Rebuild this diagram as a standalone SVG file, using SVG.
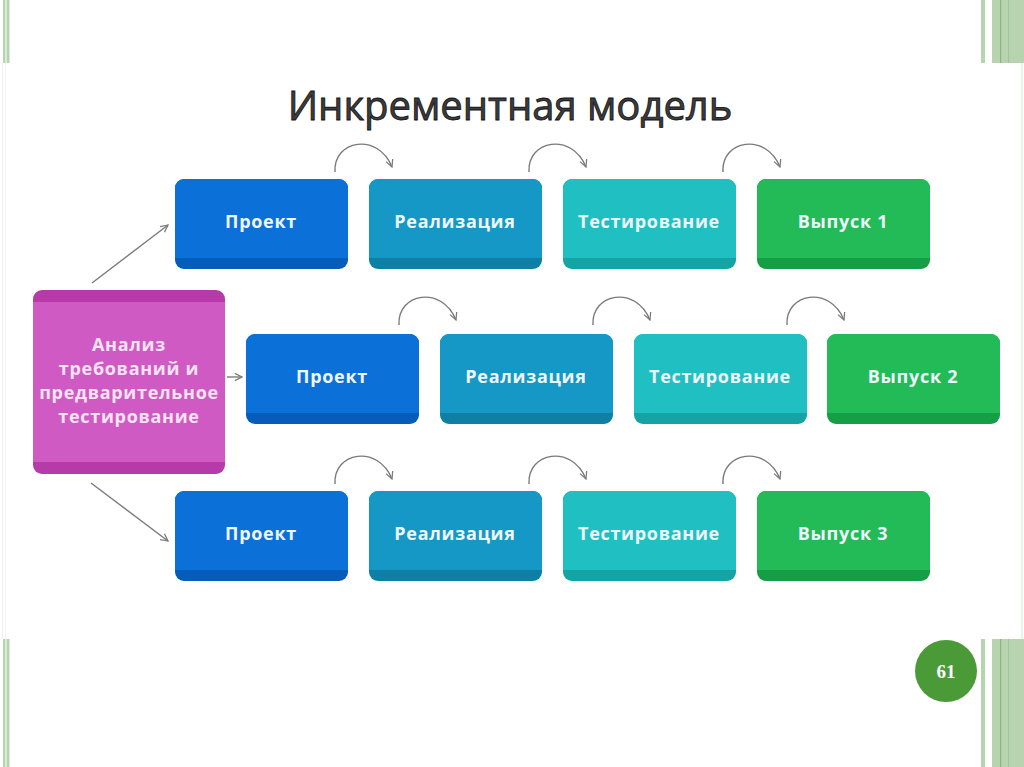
<svg xmlns="http://www.w3.org/2000/svg" width="1024" height="767" viewBox="0 0 1024 767">
<defs>
<style>
.lbl{font-family:"Open Sans","DejaVu Sans",sans-serif;font-weight:700;font-size:18px;letter-spacing:0.7px;text-anchor:middle}
.boxlbl{fill:#eef6fb}
.con{fill:none;stroke:#7a7a7a;stroke-width:1.4}
.gl{fill:#b7d3b0}
.gd{fill:#8ab682}
</style>
<marker id="ah" viewBox="0 0 10 10" refX="9" refY="5" markerWidth="9" markerHeight="9" markerUnits="userSpaceOnUse" orient="auto">
<path d="M1,1 L9,5 L1,9" fill="none" stroke="#7a7a7a" stroke-width="1.4"/>
</marker>
</defs>
<rect x="0" y="0" width="1024" height="767" fill="#ffffff"/>
<g id="frame">
<rect class="gl" x="3" y="0" width="2.5" height="63"/>
<rect class="gl" x="6.5" y="0" width="3" height="63"/>
<rect class="gl" x="981" y="0" width="4" height="63"/>
<rect class="gl" x="992" y="0" width="32" height="63"/>
<rect class="gd" x="1000" y="0" width="1.2" height="63"/>
<rect class="gd" x="1008" y="0" width="1" height="63" opacity="0.5"/>
<rect x="1021.5" y="63" width="1" height="576" fill="#d9e8d5"/>
<rect x="2" y="63" width="1" height="576" fill="#f0f0f0"/>
<rect x="5" y="63" width="1" height="576" fill="#f3f3f3"/>
<rect class="gl" x="3" y="639" width="2.5" height="128"/>
<rect class="gl" x="6.5" y="639" width="3" height="128"/>
<rect class="gl" x="981" y="639" width="4" height="128"/>
<rect class="gl" x="992" y="639" width="32" height="128"/>
<rect class="gd" x="1000" y="639" width="1.2" height="128"/>
<rect class="gd" x="1008" y="639" width="1" height="128" opacity="0.5"/>
</g>
<text x="510" y="120" font-family="'Open Sans','DejaVu Sans',sans-serif" font-size="40" fill="#3c3c3c" stroke="#111" stroke-width="0.8" text-anchor="middle">Инкрементная модель</text>
<g id="connectors">
<path class="con" d="M92,283 L168,225" marker-end="url(#ah)"/>
<path class="con" d="M227,377 L242,377" marker-end="url(#ah)"/>
<path class="con" d="M91,483 L168,541" marker-end="url(#ah)"/>
<g id="row1arcs">
<path class="con" d="M335,172 C333,140 378,132 392,167" marker-end="url(#ah)"/>
<path class="con" d="M529,172 C527,140 572,132 586,167" marker-end="url(#ah)"/>
<path class="con" d="M723,172 C721,140 766,132 780,167" marker-end="url(#ah)"/>
</g>
<g id="row2arcs">
<path class="con" d="M399,325 C397,293 442,285 456,320" marker-end="url(#ah)"/>
<path class="con" d="M593,325 C591,293 636,285 650,320" marker-end="url(#ah)"/>
<path class="con" d="M787,325 C785,293 830,285 844,320" marker-end="url(#ah)"/>
</g>
<g id="row3arcs">
<path class="con" d="M335,484 C333,452 378,444 392,479" marker-end="url(#ah)"/>
<path class="con" d="M529,484 C527,452 572,444 586,479" marker-end="url(#ah)"/>
<path class="con" d="M723,484 C721,452 766,444 780,479" marker-end="url(#ah)"/>
</g>
</g>
<g id="analysis">
<rect x="33" y="290" width="192" height="184" rx="9" fill="#b73aa9"/>
<rect x="33" y="302" width="192" height="160" fill="#d05ac3"/>
<text class="lbl" fill="#f7e3f3" x="129" y="351">Анализ</text>
<text class="lbl" fill="#f7e3f3" x="129" y="375">требований и</text>
<text class="lbl" fill="#f7e3f3" x="129" y="399">предварительное</text>
<text class="lbl" fill="#f7e3f3" x="129" y="423">тестирование</text>
</g>
<g id="p1"><rect x="175" y="179" width="173" height="90" rx="9" fill="#075cb9"/><rect x="175" y="179" width="173" height="79" rx="9" fill="#0b70d8"/><rect x="175" y="240" width="173" height="18" fill="#0b70d8"/><text class="lbl boxlbl" x="261" y="228">Проект</text></g>
<g id="r1"><rect x="369" y="179" width="173" height="90" rx="9" fill="#0f7fa4"/><rect x="369" y="179" width="173" height="79" rx="9" fill="#1698c6"/><rect x="369" y="240" width="173" height="18" fill="#1698c6"/><text class="lbl boxlbl" x="455" y="228">Реализация</text></g>
<g id="t1"><rect x="563" y="179" width="173" height="90" rx="9" fill="#16a3a4"/><rect x="563" y="179" width="173" height="79" rx="9" fill="#20c0c2"/><rect x="563" y="240" width="173" height="18" fill="#20c0c2"/><text class="lbl boxlbl" x="649" y="228">Тестирование</text></g>
<g id="v1"><rect x="757" y="179" width="173" height="90" rx="9" fill="#169e47"/><rect x="757" y="179" width="173" height="79" rx="9" fill="#22bb57"/><rect x="757" y="240" width="173" height="18" fill="#22bb57"/><text class="lbl boxlbl" x="843" y="228">Выпуск 1</text></g>
<g id="p2"><rect x="246" y="334" width="173" height="90" rx="9" fill="#075cb9"/><rect x="246" y="334" width="173" height="79" rx="9" fill="#0b70d8"/><rect x="246" y="395" width="173" height="18" fill="#0b70d8"/><text class="lbl boxlbl" x="332" y="383">Проект</text></g>
<g id="r2"><rect x="440" y="334" width="173" height="90" rx="9" fill="#0f7fa4"/><rect x="440" y="334" width="173" height="79" rx="9" fill="#1698c6"/><rect x="440" y="395" width="173" height="18" fill="#1698c6"/><text class="lbl boxlbl" x="526" y="383">Реализация</text></g>
<g id="t2"><rect x="634" y="334" width="173" height="90" rx="9" fill="#16a3a4"/><rect x="634" y="334" width="173" height="79" rx="9" fill="#20c0c2"/><rect x="634" y="395" width="173" height="18" fill="#20c0c2"/><text class="lbl boxlbl" x="720" y="383">Тестирование</text></g>
<g id="v2"><rect x="827" y="334" width="173" height="90" rx="9" fill="#169e47"/><rect x="827" y="334" width="173" height="79" rx="9" fill="#22bb57"/><rect x="827" y="395" width="173" height="18" fill="#22bb57"/><text class="lbl boxlbl" x="913" y="383">Выпуск 2</text></g>
<g id="p3"><rect x="175" y="491" width="173" height="90" rx="9" fill="#075cb9"/><rect x="175" y="491" width="173" height="79" rx="9" fill="#0b70d8"/><rect x="175" y="552" width="173" height="18" fill="#0b70d8"/><text class="lbl boxlbl" x="261" y="540">Проект</text></g>
<g id="r3"><rect x="369" y="491" width="173" height="90" rx="9" fill="#0f7fa4"/><rect x="369" y="491" width="173" height="79" rx="9" fill="#1698c6"/><rect x="369" y="552" width="173" height="18" fill="#1698c6"/><text class="lbl boxlbl" x="455" y="540">Реализация</text></g>
<g id="t3"><rect x="563" y="491" width="173" height="90" rx="9" fill="#16a3a4"/><rect x="563" y="491" width="173" height="79" rx="9" fill="#20c0c2"/><rect x="563" y="552" width="173" height="18" fill="#20c0c2"/><text class="lbl boxlbl" x="649" y="540">Тестирование</text></g>
<g id="v3"><rect x="757" y="491" width="173" height="90" rx="9" fill="#169e47"/><rect x="757" y="491" width="173" height="79" rx="9" fill="#22bb57"/><rect x="757" y="552" width="173" height="18" fill="#22bb57"/><text class="lbl boxlbl" x="843" y="540">Выпуск 3</text></g>
<g id="pagenum">
<circle cx="946" cy="671" r="31" fill="#4a9a38"/>
<text x="946" y="678" font-family="'Liberation Serif',serif" font-weight="700" font-size="19" fill="#ffffff" text-anchor="middle">61</text>
</g>
</svg>
